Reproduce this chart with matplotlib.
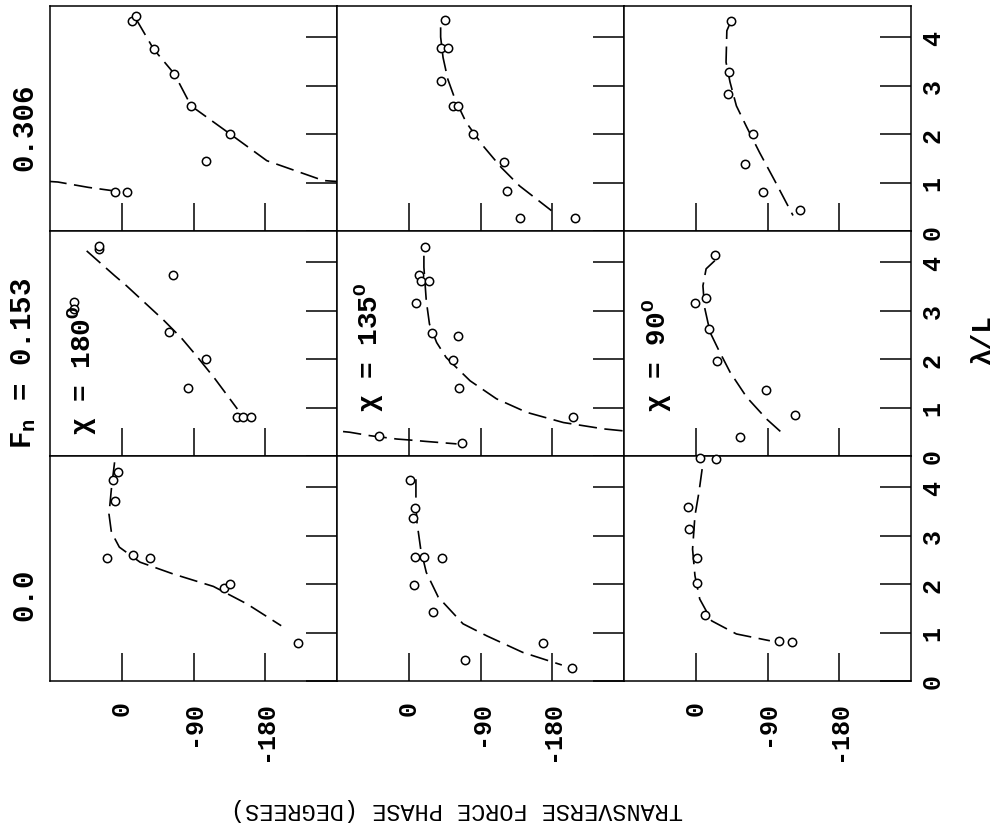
import matplotlib
matplotlib.use("Agg")
import matplotlib.pyplot as plt
import numpy as np

plt.rcParams['font.family'] = ['Liberation Mono', 'DejaVu Sans Mono', 'DejaVu Sans']
plt.rcParams['mathtext.fontset'] = 'custom'
plt.rcParams['mathtext.rm'] = 'Liberation Mono'
plt.rcParams['mathtext.bf'] = 'Liberation Mono:bold'
plt.rcParams['axes.linewidth'] = 1.1

# Row / column labels
froude_labels = ['0.306', 'F$_\\mathregular{n}$ = 0.153', '0.0']
heading_angles = ['180', '135', '90']
phase_ticks = [0, -90, -180]
phase_tick_labels = ['0', '-90', '-180']
wavelength_ticks = [0, 1, 2, 3, 4]
wavelength_tick_labels = ['0', '1', '2', '3', '4']

# ---- Fn = 0.306 ----
p306_180_phase = [-13, -18, -40, -66, -87, -136, -106, 8, -6]
p306_180_lam = [4.34, 4.44, 3.75, 3.24, 2.58, 2.00, 1.44, 0.81, 0.81]
c306_180_phase = [-18, -40, -66, -87, -136, -182, -253, -280, -318, -349]
c306_180_lam = [4.37, 3.75, 3.24, 2.58, 2.00, 1.45, 1.04, 1.01, 0.90, 0.83]

p306_135_phase = [-45, -40, -49, -41, -55, -62, -81, -119, -123, -140, -208]
p306_135_lam = [4.35, 3.77, 3.77, 3.10, 2.58, 2.58, 2.00, 1.43, 0.83, 0.27, 0.27]
c306_135_phase = [-40, -40, -43, -49, -58, -72, -93, -116, -139, -179]
c306_135_lam = [4.20, 4.00, 3.58, 3.13, 2.72, 2.24, 1.76, 1.31, 0.93, 0.42]

p306_90_phase = [-44, -42, -41, -72, -62, -84, -131]
p306_90_lam = [4.34, 3.27, 2.82, 2.00, 1.38, 0.80, 0.43]
c306_90_phase = [-44, -39, -38, -43, -51, -64, -80, -99, -122]
c306_90_lam = [4.32, 4.13, 3.48, 3.07, 2.58, 2.14, 1.62, 1.04, 0.32]

# ---- Fn = 0.153 ----
p153_180_phase = [29, 29, -64, -59, -106, -83, -144, -152, -162, 60, 60]
p153_180_lam = [4.27, 4.33, 3.74, 2.55, 2.00, 1.40, 0.81, 0.81, 0.80, 3.18, 3.04]
c153_180_phase = [44, 9, -6, -52, -75, -94, -117, -145]
c153_180_lam = [4.23, 3.72, 3.51, 2.81, 2.43, 2.06, 1.59, 0.97]

p153_135_phase = [-21, -13, -15, -26, -9, -29, -62, -55, -63, -206, 37, -67]
p153_135_lam = [4.32, 3.73, 3.60, 3.60, 3.15, 2.53, 2.48, 1.97, 1.40, 0.80, 0.41, 0.26]
c153_135_phase = [-19, -19, -22, -26, -35, -47, -77, -110, -148, -194, -244,
                  -286, -311, -345, -361, -382, -420]
c153_135_lam = [4.13, 3.89, 3.20, 2.72, 2.34, 2.03, 1.55, 1.18, 0.90, 0.69, 0.56,
                0.49, 0.42, 0.35, 0.33, 0.30, 0.25]

p153_90_phase = [-24, 1, -13, -17, -27, -88, -124, -55]
p153_90_lam = [4.15, 3.15, 3.25, 2.62, 1.95, 1.37, 0.85, 0.40]
c153_90_phase = [-24, -13, -9, -11, -18, -28, -43, -64, -89, -112]
c153_90_lam = [4.03, 3.86, 3.51, 3.07, 2.55, 2.21, 1.73, 1.21, 0.76, 0.42]

# ---- Fn = 0.0 ----
p000_180_phase = [5, 11, 9, 19, -14, -35, -128, -136, -221]
p000_180_lam = [4.30, 4.14, 3.72, 2.53, 2.60, 2.53, 1.91, 2.00, 0.78]
c000_180_phase = [9, 13, 16, 13, 3, -23, -64, -115, -157, -200]
c000_180_lam = [4.51, 3.96, 3.44, 3.07, 2.76, 2.45, 2.21, 1.95, 1.59, 1.14]

p000_135_phase = [-1, -8, -5, -8, -19, -42, -7, -31, -169, -70, -205]
p000_135_lam = [4.14, 3.57, 3.36, 2.55, 2.55, 2.53, 1.97, 1.42, 0.78, 0.43, 0.26]
c000_135_phase = [-9, -9, -10, -15, -22, -37, -68, -98, -143, -192]
c000_135_lam = [4.16, 3.75, 3.31, 2.72, 2.24, 1.73, 1.18, 0.93, 0.59, 0.33]

p000_90_phase = [-5, -26, 10, 8, -2, -2, -11, -105, -121]
p000_90_lam = [4.59, 4.58, 3.58, 3.13, 2.53, 2.03, 1.37, 0.82, 0.80]
c000_90_phase = [-8, -4, 1, 4, 1, -5, -20, -51, -93]
c000_90_lam = [4.37, 3.89, 3.41, 2.72, 2.17, 1.69, 1.24, 0.97, 0.83]

panels = [
    [(p306_180_phase, p306_180_lam, c306_180_phase, c306_180_lam),
     (p306_135_phase, p306_135_lam, c306_135_phase, c306_135_lam),
     (p306_90_phase, p306_90_lam, c306_90_phase, c306_90_lam)],
    [(p153_180_phase, p153_180_lam, c153_180_phase, c153_180_lam),
     (p153_135_phase, p153_135_lam, c153_135_phase, c153_135_lam),
     (p153_90_phase, p153_90_lam, c153_90_phase, c153_90_lam)],
    [(p000_180_phase, p000_180_lam, c000_180_phase, c000_180_lam),
     (p000_135_phase, p000_135_lam, c000_135_phase, c000_135_lam),
     (p000_90_phase, p000_90_lam, c000_90_phase, c000_90_lam)],
]

W, H = 999, 829
fig = plt.figure(figsize=(W / 100, H / 100), dpi=100)
gs = fig.add_gridspec(3, 3, left=50 / W, right=911 / W,
                      bottom=1 - 682 / H, top=1 - 7 / H,
                      wspace=0, hspace=0)

for r in range(3):
    for c in range(3):
        ax = fig.add_subplot(gs[r, c])
        pph, plam, cph, clam = panels[r][c]
        # phase is periodic: draw the fitted curve again one cycle over
        for shift in (0, 360):
            ax.plot(np.asarray(cph) + shift, clam, color='black', lw=1.2,
                    ls=(0, (11, 4.5)), zorder=2)
        ax.plot(pph, plam, 'o', ms=6.0, mfc='white', mec='black', mew=1.1,
                zorder=3, clip_on=False)
        ax.set_xlim(90, -270)
        ax.set_ylim(0, 4.64)
        ax.set_xticks(phase_ticks)
        ax.set_xticklabels(phase_tick_labels)
        ax.set_yticks(wavelength_ticks)
        ax.set_yticklabels(wavelength_tick_labels)
        ax.tick_params(axis='x', bottom=True, top=False, direction='in',
                       length=20, width=1.1, labelbottom=(r == 2),
                       labelsize=18, pad=14, labelrotation=90)
        ax.tick_params(axis='y', left=False, right=True, direction='in',
                       length=22, width=1.1, labelleft=False,
                       labelright=(c == 2), labelsize=18, pad=7,
                       labelrotation=90)
        for lab in ax.get_yticklabels() + ax.get_xticklabels():
            lab.set_fontweight('bold')
        for lab in ax.get_yticklabels():
            lab.set_verticalalignment('center')

# Froude number row labels
for text, yc in zip(froude_labels, [127, 363, 595]):
    fig.text(24 / W, 1 - yc / H, text, rotation=90, ha='center', va='center',
             fontsize=21, fontweight='bold')

# Heading labels inside the middle row
for ang, (xc, yc) in zip(heading_angles, [(82, 370), (369, 347), (657, 355)]):
    fig.text(xc / W, 1 - yc / H, 'χ = ' + ang + '$^\\mathregular{O}$',
             rotation=90, ha='center', va='center', fontsize=20,
             fontweight='bold')

fig.text(983 / W, 1 - 340 / H, 'λ/L', rotation=90, ha='center', va='center',
         fontsize=20, fontweight='bold')
fig.text(457 / W, 1 - 810 / H, 'TRANSVERSE FORCE PHASE (DEGREES)', rotation=180,
         ha='center', va='center', fontsize=17)

fig.savefig('out.png', dpi=100, facecolor='white')
